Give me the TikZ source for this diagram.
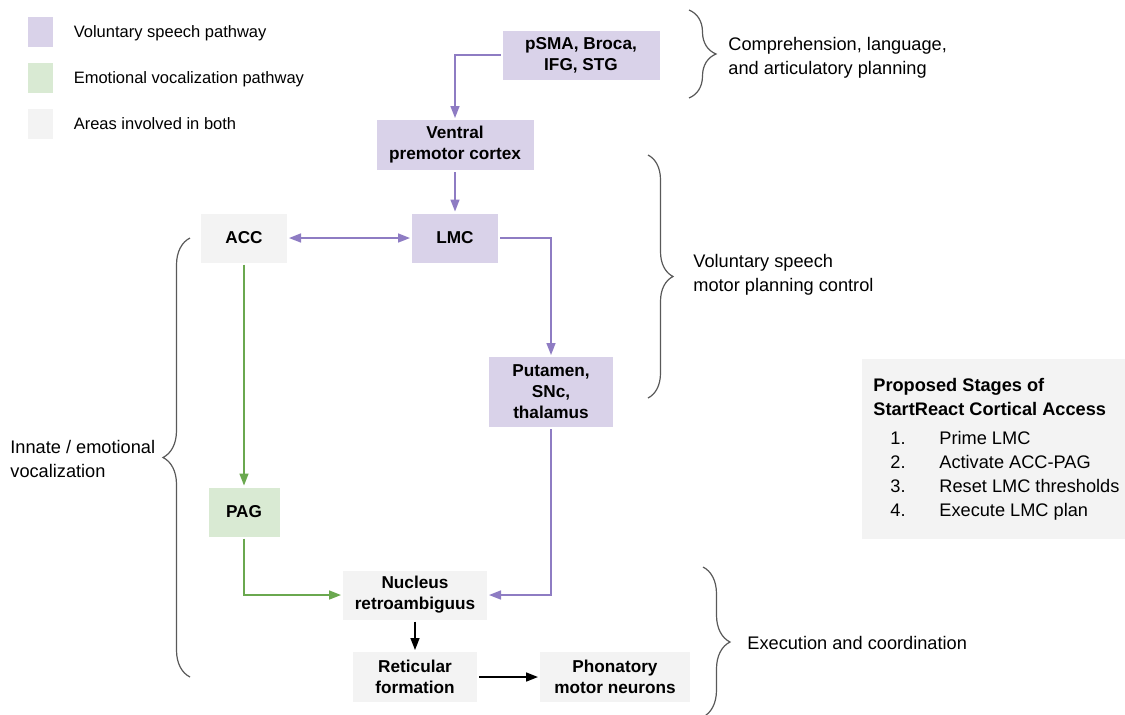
\documentclass[tikz,border=0pt]{standalone}
\usepackage{fontspec}
\setmainfont{Liberation Sans}
\usetikzlibrary{arrows.meta,positioning,decorations.pathreplacing}
\usepackage{xcolor}
\definecolor{voicefill}{HTML}{D9D2E9}
\definecolor{voiceline}{HTML}{8E7CC3}
\definecolor{emofill}{HTML}{D9EAD3}
\definecolor{emoline}{HTML}{6AA84F}
\definecolor{bothfill}{HTML}{F3F3F3}

\begin{document}
\begin{tikzpicture}[
            x=0.5pt, y=-0.5pt,
            >={Triangle[length=6pt,width=4.5pt]},
            area/.style={rectangle, align=center, inner sep=0pt, outer sep=1pt, font=\bfseries\fontsize{8.6}{10.5}\selectfont},
            voice/.style={area, fill=voicefill},
            emo/.style={area, fill=emofill},
            both/.style={area, fill=bothfill},
            swatch/.style={rectangle, minimum width=12.5pt, minimum height=15pt, inner sep=0pt},
            keytext/.style={align=left, inner sep=0pt, font=\fontsize{8.25}{12}\selectfont},
            note/.style={align=left, anchor=west, inner sep=0pt, font=\fontsize{9.1}{12}\selectfont},
            arrow/.style={->, line width=0.8pt},
            brace/.style={decorate, decoration={brace, amplitude=#1}, line width=0.6pt, draw=black!65}
        ]
            \useasboundingbox (0,0) rectangle (1125,714);

            % --- LEGEND ---
            \node[swatch, fill=voicefill] (keyvoice) at (40.5,31.5) {};
            \node[swatch, fill=emofill] (keyemo) at (40.5,77.5) {};
            \node[swatch, fill=bothfill] (keyboth) at (40.5,123.5) {};
            \node[keytext, right=10pt of keyvoice, yshift=-1pt] (keyvoicetext) {Voluntary speech pathway};
            \node[keytext, right=10pt of keyemo, yshift=-1pt] (keyemotext) {Emotional vocalization pathway};
            \node[keytext, right=10pt of keyboth] (keybothtext) {Areas involved in both};

            % --- AREAS ---
            \node[voice, minimum width=78.5pt, minimum height=24.5pt] (psma) at (581,55) {pSMA, Broca,\\IFG, STG};
            \node[voice, minimum width=78.5pt, minimum height=25pt] (ventral) at (455,145) {Ventral\\premotor cortex};
            \node[both, minimum width=43pt, minimum height=24.5pt] (acc) at (244,238) {ACC};
            \node[voice, minimum width=43pt, minimum height=24.5pt] (lmc) at (455,238) {LMC};
            \node[voice, minimum width=62pt, minimum height=35pt] (putamen) at (551,392) {Putamen,\\SNc,\\thalamus};
            \node[emo, minimum width=35.5pt, minimum height=24.5pt] (pag) at (244,512) {PAG};
            \node[both, minimum width=72pt, minimum height=24.5pt] (nucleus) at (415,595) {Nucleus\\retroambiguus};
            \node[both, minimum width=62pt, minimum height=25pt] (reticular) at (415,677) {Reticular\\formation};
            \node[both, minimum width=75pt, minimum height=25pt] (phonatory) at (615,677) {Phonatory\\motor neurons};

            % --- STAGES ---
            \node[both, anchor=north west, minimum width=132.5pt, minimum height=90pt] (stages) at (860,357) {};
            \node[note, anchor=west, xshift=6.5pt] (stagestext) at (stages.west)
                {\textbf{Proposed Stages of}\\\textbf{StartReact Cortical Access}\\[2.5pt]
                 \hspace*{8.5pt}\makebox[24.5pt][l]{1.}Prime LMC\\
                 \hspace*{8.5pt}\makebox[24.5pt][l]{2.}Activate ACC-PAG\\
                 \hspace*{8.5pt}\makebox[24.5pt][l]{3.}Reset LMC thresholds\\
                 \hspace*{8.5pt}\makebox[24.5pt][l]{4.}Execute LMC plan};

            % --- BRACES ---
            \draw[brace=13.5pt] (689,10) -- (689,98);
            \draw[brace=12.5pt] (648,155) -- (648,398);
            \draw[brace=13.5pt] (190,677) -- (190,238);
            \draw[brace=13.5pt] (703,567) -- (703,717);
            \node[note] (comprehension) at (728,58) {Comprehension, language,\\and articulatory planning};
            \node[note] (motorplan) at (693,275) {Voluntary speech\\motor planning control};
            \node[note] (innate) at (10,459) {Innate / emotional\\vocalization};
            \node[note] (execution) at (747,643) {Execution and coordination};

            % --- PATHWAYS ---
            \draw[arrow, voiceline] (psma.west) -| (ventral.north);
            \draw[arrow, voiceline] (ventral.south) -- (lmc.north);
            \draw[arrow, voiceline, <->] (acc.east) -- (lmc.west);
            \draw[arrow, voiceline] (lmc.east) -| (putamen.north);
            \draw[arrow, voiceline] (putamen.south) |- (nucleus.east);
            \draw[arrow, emoline] (acc.south) -- (pag.north);
            \draw[arrow, emoline] (pag.south) |- (nucleus.west);
            \draw[arrow] (nucleus.south) -- (reticular.north);
            \draw[arrow] (reticular.east) -- (phonatory.west);

        \end{tikzpicture}
\end{document}
